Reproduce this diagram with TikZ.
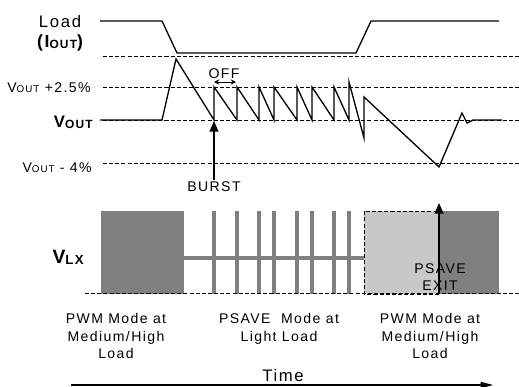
\documentclass[tikz,border=0pt]{standalone}
\usepackage{fontspec}
\setmainfont{Liberation Sans}[LetterSpace=10]
\usetikzlibrary{arrows.meta}
\definecolor{pwmgray}{RGB}{128,128,128}
\definecolor{exitgray}{RGB}{200,200,200}
\newcommand{\lowsub}[1]{\raisebox{-0.5pt}{\fontsize{5.6}{6}\selectfont #1}}
\newcommand{\boldsub}[1]{\raisebox{-0.6pt}{\fontsize{6.8}{7}\selectfont #1}}
\begin{document}
\begin{tikzpicture}[x=0.02cm,y=-0.02cm,
  level/.style={dash pattern=on 2.3pt off 1.2pt,line width=0.55pt},
  wave/.style={line width=0.75pt},
  lbl/.style={inner sep=0pt,align=center,font=\fontsize{8}{10}\selectfont},
  biglbl/.style={inner sep=0pt,font=\fontsize{9.5}{11}\selectfont},
  tip/.style={-{Triangle[length=6pt,width=5pt]},line width=0.75pt}]
\useasboundingbox (0,0) rectangle (519,386);
% load current
\draw[wave] (100,21) -- (162,21) -- (177,53) -- (356,53) -- (371,21) -- (499,21);
\node[biglbl,anchor=base] (load) at (60,27) {Load};
\node[biglbl,anchor=base,font=\fontsize{10}{11}\selectfont\bfseries] (iout) at (60,47) {(I\boldsub{OUT})};
% output voltage levels
\draw[level] (103,56) -- (519,56);
\draw[level] (103,87) -- (519,87);
\draw[level] (103,120) -- (519,120);
\draw[level] (103,163) -- (519,163);
\node[lbl,anchor=base east] (vhigh) at (91,92) {V\lowsub{OUT} +2.5\%};
\node[lbl,anchor=base east,font=\fontsize{9.5}{10}\selectfont\bfseries] (vout) at (93,127) {V\boldsub{OUT}};
\node[lbl,anchor=base east] (vlow) at (92,172) {V\lowsub{OUT} - 4\%};
% output voltage
\draw[wave] (100,120) -- (162,120) -- (176,59) -- (214,120) -- (214,87)
  -- (237,120) -- (237,87) -- (259,120) -- (259,87) -- (274,120) -- (274,87)
  -- (297,120) -- (297,87) -- (312,120) -- (312,87) -- (334,120) -- (334,87)
  -- (349,120) -- (349,82) -- (364,138) -- (364,97) -- (439,167)
  -- (462,113) -- (467,123) -- (473,120) -- (502,120);
\node[lbl,anchor=base] (off) at (224,78) {OFF};
\coordinate (offl) at (214,82);
\coordinate (offr) at (236,82);
\draw[{Stealth[length=3pt,width=3pt]}-{Stealth[length=3pt,width=3pt]},line width=0.5pt] (offl) -- (offr);
\node[lbl,anchor=base] (burst) at (214,191) {BURST};
\coordinate (burstpt) at (214,121);
\draw[tip] (burst.north) ++(0,-1) -- (burstpt);
% switching node
\fill[pwmgray] (101,211) rectangle (184,294);
\fill[pwmgray] (184,256) rectangle (364,260);
\fill[pwmgray] (212,211) rectangle (216,294);
\fill[pwmgray] (235,211) rectangle (239,294);
\fill[pwmgray] (257,211) rectangle (261,294);
\fill[pwmgray] (272,211) rectangle (276,294);
\fill[pwmgray] (295,211) rectangle (299,294);
\fill[pwmgray] (310,211) rectangle (314,294);
\fill[pwmgray] (332,211) rectangle (336,294);
\fill[pwmgray] (347,211) rectangle (351,294);
\filldraw[fill=exitgray,draw=black,level] (439,294) -- (364,294) -- (364,211) -- (439,211);
\fill[pwmgray] (439,211) rectangle (499,294);
\draw[level] (85,293) -- (519,293);
\node[anchor=base east,inner sep=0pt,font=\fontsize{11}{12}\selectfont\bfseries] (vlx) at (84,263) {V\raisebox{-0.6pt}{\fontsize{7.5}{8}\selectfont LX}};
\coordinate (exitfoot) at (439,293);
\coordinate (exittip) at (439,203);
\draw[tip] (exitfoot) -- (exittip);
\node[lbl,anchor=north] (exit) at (440,263) {PSAVE\\EXIT};
% modes
\node[lbl,anchor=north] (pwm1) at (116,313) {PWM Mode at\\Medium/High\\Load};
\node[lbl,anchor=north] (psave) at (279,313) {PSAVE~ Mode at\\Light Load};
\node[lbl,anchor=north] (pwm2) at (430,313) {PWM Mode at\\Medium/High\\Load};
% time axis
\node[biglbl,anchor=base] (time) at (283,381) {Time};
\coordinate (tstart) at (71,385);
\coordinate (tend) at (493,385);
\draw[-{Triangle[length=7pt,width=3.5pt]},line width=0.6pt] (tstart) -- (tend);
\end{tikzpicture}
\end{document}
